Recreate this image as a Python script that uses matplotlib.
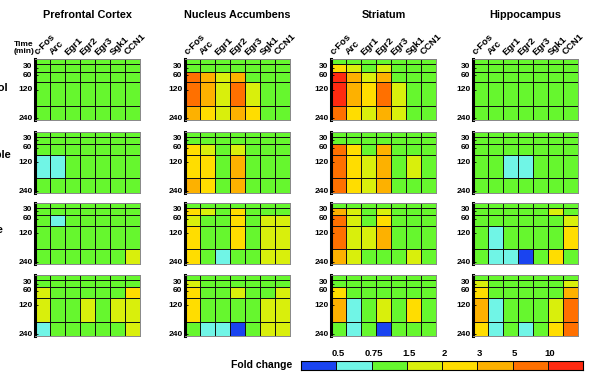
import numpy as np
import matplotlib
matplotlib.use("Agg")
import matplotlib.pyplot as plt
import matplotlib.transforms as mtransforms
from matplotlib.colors import ListedColormap, BoundaryNorm

plt.rcParams['font.family'] = ['Liberation Sans', 'DejaVu Sans']
plt.rcParams['font.weight'] = 'bold'

# ---------------- data ----------------
regions = ["Prefrontal Cortex", "Nucleus Accumbens", "Striatum", "Hippocampus"]
conditions = ["Control", "Variable", "Acute", ""]
genes = ["c-Fos", "Arc", "Egr1", "Egr2", "Egr3", "Sgk1", "CCN1"]
times = [0, 30, 60, 120, 240]
time_ticks = [30, 60, 120, 240]

bounds = [0, 0.5, 0.75, 1.5, 2, 3, 5, 10, 100]
bound_labels = ["0.5", "0.75", "1.5", "2", "3", "5", "10"]
bin_colors = ["#1a44f0", "#70f5e6", "#66f72e", "#d9ef0c", "#ffdd00", "#fdb100", "#ff7000", "#ff2a10"]
legend_values = [0.4, 0.62, 1.0, 1.7, 2.5, 4.0, 7.0, 13.0]

B, C, G, YG, Y, O, DO, R = legend_values
base = [G] * 7

pfc_control = [base, [G]*7, [G]*7, [G]*7, [G]*7]
pfc_variable = [base, [G]*7, [G]*7, [C, C, G, G, G, G, G], [G]*7]
pfc_acute = [base, [G]*7, [G, C, G, G, G, G, G], [G]*7, [G, G, G, G, G, G, YG]]
pfc_row4 = [base, [G]*7, [YG, G, G, G, G, G, Y], [YG, G, G, YG, G, YG, YG], [C, G, G, G, G, G, YG]]

nac_control = [base, [G]*7, [DO, O, YG, O, G, G, G], [DO, O, YG, DO, YG, G, G], [O, Y, YG, O, Y, G, G]]
nac_variable = [base, [G]*7, [Y, YG, G, YG, G, G, G], [Y, Y, G, O, G, G, G], [O, Y, G, O, G, G, G]]
nac_acute = [base, [Y, YG, G, Y, G, G, G], [YG, G, G, Y, G, YG, YG], [Y, G, G, Y, G, YG, YG], [Y, G, C, G, G, YG, YG]]
nac_row4 = [base, [YG, G, G, G, G, G, G], [Y, G, G, YG, G, G, YG], [Y, G, G, G, G, YG, YG], [G, C, C, B, G, YG, YG]]

str_control = [base, [Y, YG, G, YG, G, G, G], [R, O, YG, O, G, G, G], [R, O, Y, DO, YG, G, G], [DO, Y, YG, O, YG, G, G]]
str_variable = [base, [G]*7, [DO, Y, G, O, G, G, G], [DO, Y, YG, O, G, YG, G], [DO, Y, YG, O, G, G, G]]
str_acute = [base, [O, YG, G, YG, G, G, G], [DO, YG, G, Y, G, G, G], [DO, YG, YG, O, G, G, G], [O, YG, G, G, G, YG, G]]
str_row4 = [base, [G]*7, [Y, G, G, G, G, G, G], [O, C, G, YG, G, Y, G], [G, C, G, B, G, G, G]]

hip_control = [base, [G]*7, [G]*7, [G]*7, [G]*7]
hip_variable = [base, [G]*7, [G]*7, [G, G, C, C, G, G, G], [G]*7]
hip_acute = [base, [G, G, G, G, G, YG, G], [G, G, G, G, G, G, YG], [G, C, G, G, G, G, Y], [G, C, C, B, G, Y, G]]
hip_row4 = [base, [YG, G, G, G, G, G, YG], [Y, G, G, G, G, G, O], [O, C, G, G, G, YG, DO], [Y, C, G, C, G, Y, DO]]

panels = [
    [pfc_control, nac_control, str_control, hip_control],
    [pfc_variable, nac_variable, str_variable, hip_variable],
    [pfc_acute, nac_acute, str_acute, hip_acute],
    [pfc_row4, nac_row4, str_row4, hip_row4],
]

# ---------------- layout ----------------
W, H = 595, 374
fig = plt.figure(figsize=(W / 100, H / 100), dpi=100)

col_left = [35, 185, 331, 473]
row_top = [59.3, 131.7, 202.7, 275]
pw, ph = 105, 61
y_edges = [-6, 15, 45, 90, 188, 248]
tick_label_dy = [1.4, 0.0, -0.2, -0.3]   # small pixel nudges of the time labels

cmap = ListedColormap(bin_colors)
norm = BoundaryNorm(bounds, cmap.N)


def fax(l, t, w, h):
    return fig.add_axes([l / W, 1 - (t + h) / H, w / W, h / H])


for r in range(4):
    for c in range(4):
        ax = fax(col_left[c], row_top[r], pw, ph)
        data = np.array(panels[r][c])
        ax.pcolormesh(np.arange(len(genes) + 1), y_edges, data, cmap=cmap, norm=norm,
                      edgecolor='#111111', linewidth=0.55)
        ax.set_xlim(0, len(genes))
        ax.set_ylim(y_edges[-1], y_edges[0])
        ax.set_xticks([])
        ax.set_yticks(time_ticks)
        ax.set_yticklabels([])
        ax.tick_params(axis='y', direction='in', length=2.5, width=0.6, pad=1.5)
        base_tr = ax.get_yaxis_transform()
        for t, dy in zip(time_ticks, tick_label_dy):
            tr = mtransforms.offset_copy(base_tr, fig=fig, x=-2.5, y=dy, units='dots')
            ax.text(0, t, str(t), transform=tr, ha='right', va='center', fontsize=6.0,
                    fontweight='bold')
        for s in ['top', 'right', 'bottom']:
            ax.spines[s].set_color('#888888')
            ax.spines[s].set_linewidth(0.7)
        ax.spines['left'].set_linewidth(2.2)
        ax.spines['left'].set_color('black')
        if r == 0:
            for i, g in enumerate(genes):
                ax.text(i + 0.3, 1.04, g, transform=ax.get_xaxis_transform(), rotation=45,
                        ha='left', va='bottom', rotation_mode='anchor', fontsize=6.8,
                        fontweight='bold')
            fig.text((col_left[c] + pw / 2) / W, 1 - 15 / H, regions[c], ha='center',
                     va='center', fontsize=7.8, fontweight='bold')

# "Time (min)" label
fig.text(24 / W, 1 - 48 / H, "Time\n(min)", ha='center', va='center', fontsize=6.0,
         fontweight='bold', linespacing=1.0)

# row labels (cut off at left edge as in reference)
label_right = [8, 11.5, 4, 4]
label_y = [88, 155, 230, 305]
for r in range(4):
    if conditions[r]:
        fig.text(label_right[r] / W, 1 - label_y[r] / H, conditions[r], ha='right',
                 va='center', fontsize=8, fontweight='bold')

# colour legend
cax = fax(301, 360.5, 282, 9.5)
cax.pcolormesh(np.arange(len(legend_values) + 1), [0, 1], np.array([legend_values]),
               cmap=cmap, norm=norm, edgecolor='#111111', linewidth=0.7)
cax.set_xlim(0, len(legend_values))
cax.set_ylim(0, 1)
cax.set_yticks([])
cax.set_xticks(np.arange(1, len(legend_values)) + 0.06)
cax.set_xticklabels(bound_labels, fontsize=6.8, fontweight='bold')
cax.xaxis.set_ticks_position('top')
cax.tick_params(axis='x', length=0, pad=1.5)
for s in cax.spines.values():
    s.set_linewidth(0.8)
fig.text(292 / W, 1 - 365 / H, "Fold change", ha='right', va='center', fontsize=7.5,
         fontweight='bold')

fig.savefig("out.png", dpi=100)
